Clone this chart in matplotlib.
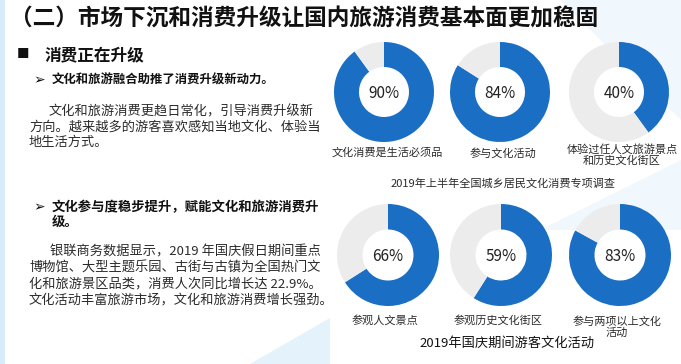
import matplotlib.pyplot as plt
from matplotlib.patches import Polygon, Rectangle

plt.rcParams['font.family'] = ['Noto Sans CJK SC', 'DejaVu Sans']

W, H = 681, 364

title = '（二）市场下沉和消费升级让国内旅游消费基本面更加稳固'
section = '消费正在升级'
point1 = '文化和旅游融合助推了消费升级新动力。'
para1 = ['文化和旅游消费更趋日常化，引导消费升级新',
         '方向。越来越多的游客喜欢感知当地文化、体验当',
         '地生活方式。']
point2 = ['文化参与度稳步提升，赋能文化和旅游消费升', '级。']
para2 = ['银联商务数据显示，2019 年国庆假日期间重点',
         '博物馆、大型主题乐园、古街与古镇为全国热门文',
         '化和旅游景区品类，消费人次同比增长达 22.9%。',
         '文化活动丰富旅游市场，文化和旅游消费增长强劲。']

top_labels = ['文化消费是生活必须品', '参与文化活动', '体验过任人文旅游景点\n和历史文化街区']
top_values = [90, 84, 40]
top_caption = '2019年上半年全国城乡居民文化消费专项调查'

bottom_labels = ['参观人文景点', '参观历史文化街区', '参与两项以上文化\n活动']
bottom_values = [66, 59, 83]
bottom_caption = '2019年国庆期间游客文化活动'

blue = '#1a6ec4'
gray = '#ececec'
txt = '#2b2b2b'

fig = plt.figure(figsize=(W / 100, H / 100), dpi=100)
fig.patch.set_facecolor('white')

bg = fig.add_axes([0, 0, 1, 1], zorder=-1)
bg.set_xlim(0, W)
bg.set_ylim(H, 0)
bg.axis('off')

# faint decorative shapes
bg.add_patch(Rectangle((0, 0), 5, H, color='#d6ecf8', lw=0))
bg.add_patch(Polygon([(250, H), (330, 318), (330, H)], color='#e3f2fb', lw=0))
bg.add_patch(Polygon([(560, 0), (681, 0), (681, 120)], color='#f1f8fd', lw=0))
bg.add_patch(Polygon([(540, 230), (681, 160), (681, 230)], color='#f1f8fd', lw=0))


def donut(cx, cy, r, value):
    ax = fig.add_axes([(cx - r) / W, 1 - (cy + r) / H, 2 * r / W, 2 * r / H])
    ax.pie([value, 100 - value], startangle=90, counterclock=False,
           colors=[blue, gray], wedgeprops=dict(width=0.5, linewidth=0))
    ax.set_xlim(-1, 1)
    ax.set_ylim(-1, 1)
    ax.text(0, -0.02, f'{value}%', ha='center', va='center', fontsize=11, color='#222222')
    return ax


top_x = [384, 500, 619]
for x, v in zip(top_x, top_values):
    donut(x, 92, 50, v)

bottom_x = [388, 501, 620]
for x, v in zip(bottom_x, bottom_values):
    donut(x, 255, 51, v)

# text layer on top of everything
fg = fig.add_axes([0, 0, 1, 1], zorder=5)
fg.set_xlim(0, W)
fg.set_ylim(H, 0)
fg.axis('off')
fg.patch.set_alpha(0)

fg.text(10, 19, title, fontsize=16.3, fontweight='bold', color='#111111', va='center', ha='left')
fg.text(17, 55, '■', fontsize=9, color='#111111', va='center', ha='left')
fg.text(45, 55, section, fontsize=12, fontweight='bold', color='#111111', va='center', ha='left')

fg.text(33, 80, '➢', fontsize=10, color='#111111', va='center', ha='left')
fg.text(52, 80, point1, fontsize=8.9, fontweight='bold', color='#111111', va='center', ha='left')
for i, line in enumerate(para1):
    fg.text(49 if i == 0 else 29, 112 + 15 * i, line, fontsize=9.5, color=txt, va='center', ha='left')

fg.text(33, 207, '➢', fontsize=10, color='#111111', va='center', ha='left')
for i, line in enumerate(point2):
    fg.text(52, 207 + 15 * i, line, fontsize=9.6, fontweight='bold', color='#111111', va='center', ha='left')
for i, line in enumerate(para2):
    fg.text(50 if i == 0 else 29, 252 + 16 * i, line, fontsize=9.5, color=txt, va='center', ha='left')

for x, lab in zip(top_x, top_labels):
    fg.text(x + 3, 153 if '\n' not in lab else 155, lab, fontsize=8, color=txt,
            ha='center', va='center', linespacing=1.1)
fg.text(503, 183, top_caption, fontsize=8, color=txt, ha='center', va='center')

for x, lab in zip(bottom_x, bottom_labels):
    fg.text(x - 3, 320 if '\n' not in lab else 327, lab, fontsize=8, color=txt,
            ha='center', va='center', linespacing=1.1)
fg.text(507, 343, bottom_caption, fontsize=9.5, color='#111111', ha='center', va='center')

fig.savefig('out.png', dpi=100)
